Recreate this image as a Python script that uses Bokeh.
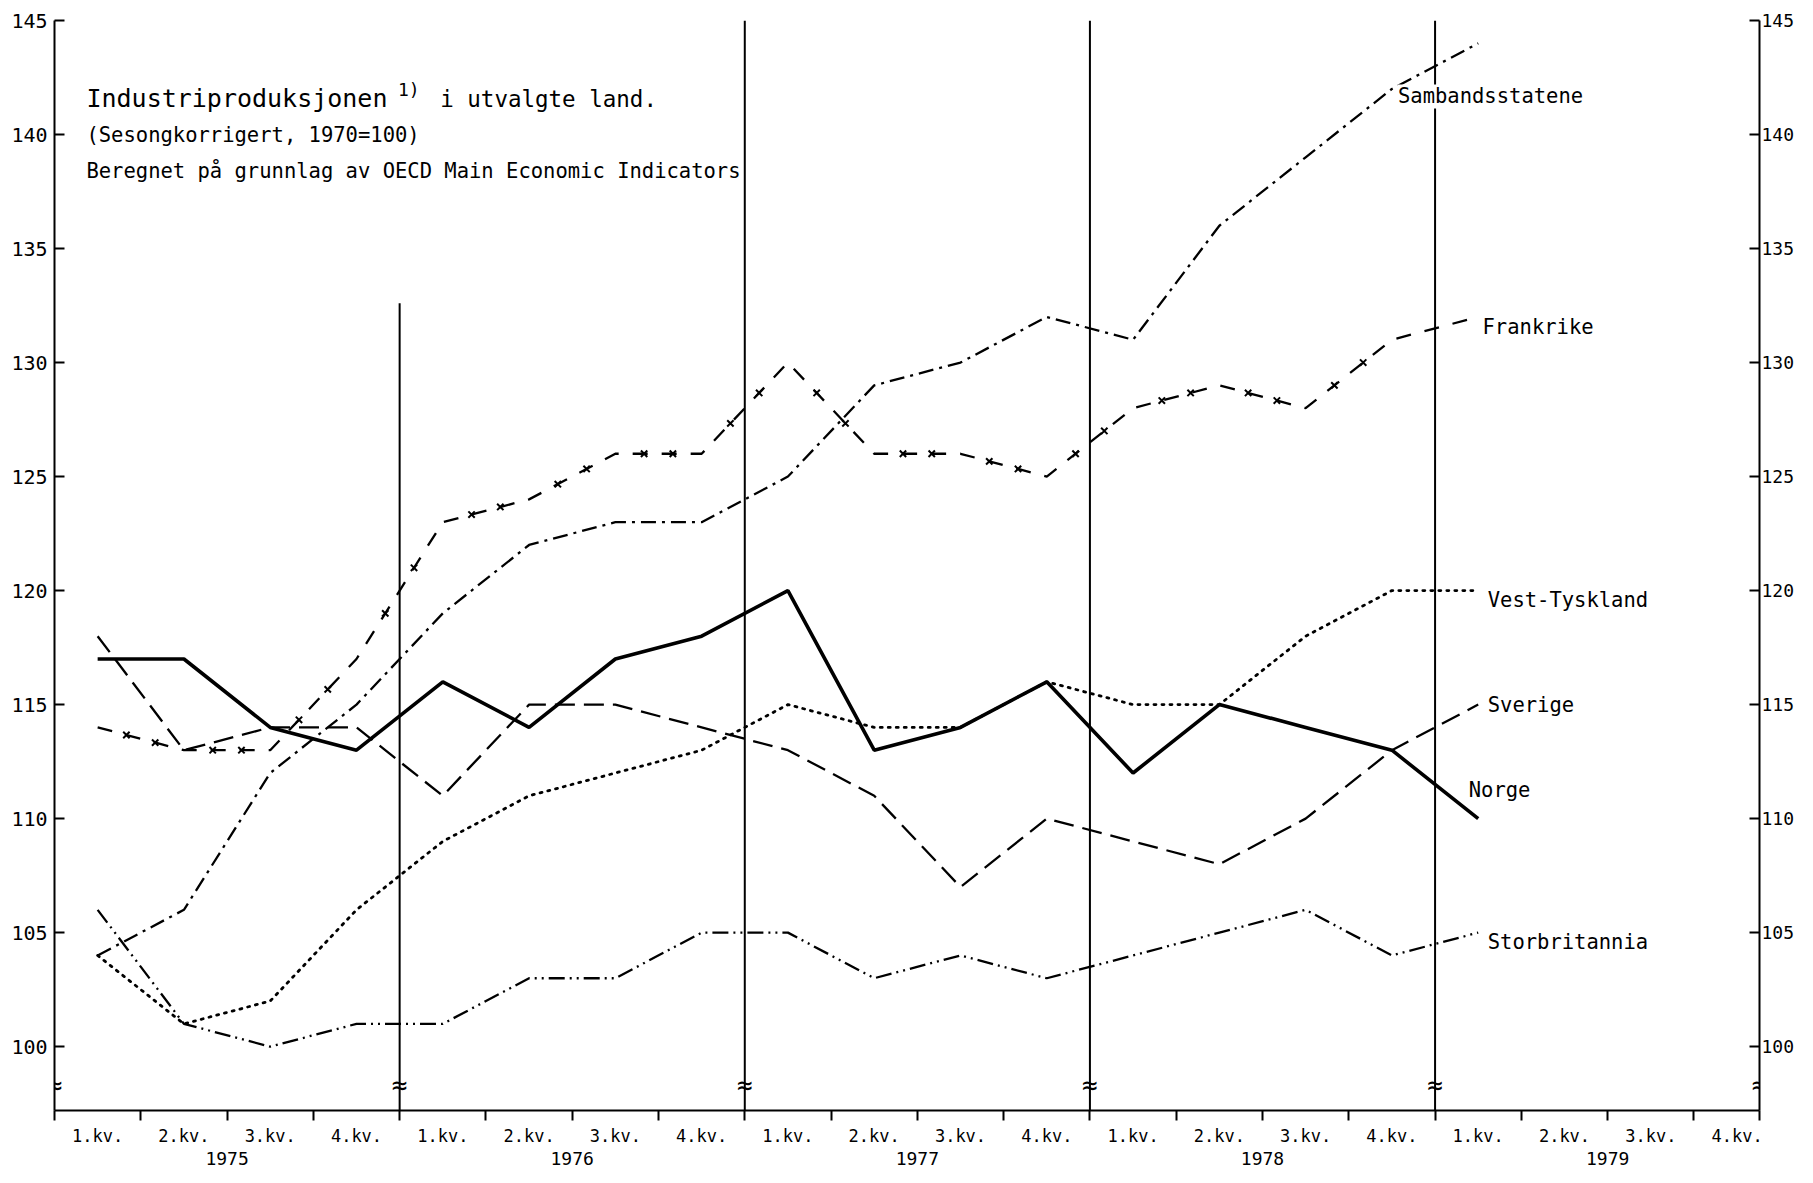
from bokeh.plotting import figure
from bokeh.models import LinearAxis, FixedTicker, Label, Range1d
from bokeh.embed import file_html
from bokeh.resources import INLINE

# ---------------- data ----------------
quarter_names = ["1.kv.", "2.kv.", "3.kv.", "4.kv."]
years = ["1975", "1976", "1977", "1978", "1979"]

norge = [117, 117, 114, 113, 116, 114, 117, 118, 120, 113, 114, 116, 112, 115, 114, 113, 110]
sverige = [118, 113, 114, 114, 111, 115, 115, 114, 113, 111, 107, 110, 109, 108, 110, 113, 115]
vest_tyskland = [104, 101, 102, 106, 109, 111, 112, 113, 115, 114, 114, 116, 115, 115, 118, 120, 120]
sambandsstatene = [104, 106, 112, 115, 119, 122, 123, 123, 125, 129, 130, 132, 131, 136, 139, 142, 144]
frankrike = [114, 113, 113, 117, 123, 124, 126, 126, 130, 126, 126, 125, 128, 129, 128, 131, 132]
storbritannia = [106, 101, 100, 101, 101, 103, 103, 105, 105, 103, 104, 103, 104, 105, 106, 104, 105]

y_ticks = [100, 105, 110, 115, 120, 125, 130, 135, 140, 145]

# ---------------- layout constants ----------------
FONT = "DejaVu Sans Mono"
X_END = 19.76
Y_MIN, Y_MAX = 97.2, 145
n_q = len(years) * 4
xs = [i + 0.5 for i in range(len(norge))]

p = figure(width=1797, height=1167,
           x_range=Range1d(0, X_END), y_range=Range1d(Y_MIN, Y_MAX),
           output_backend="svg", toolbar_location=None,
           x_axis_location=None, y_axis_location=None,
           min_border_left=54, min_border_right=32,
           min_border_top=20, min_border_bottom=48)
p.outline_line_color = None
p.grid.visible = False
p.background_fill_color = "white"

# ---------------- axes ----------------
def y_axis(standoff, size):
    ax = LinearAxis(ticker=FixedTicker(ticks=y_ticks))
    ax.major_tick_in = 10
    ax.major_tick_out = 0
    ax.major_tick_line_width = 2
    ax.minor_tick_line_color = None
    ax.axis_line_width = 2
    ax.major_label_standoff = standoff
    ax.major_label_text_font = FONT
    ax.major_label_text_font_size = size
    ax.major_label_text_color = "black"
    return ax

p.add_layout(y_axis(7, "20px"), "left")
p.add_layout(y_axis(2, "18px"), "right")

centers = [i + 0.5 for i in range(n_q)]
bounds = [float(i) for i in range(n_q)] + [X_END]
qa = LinearAxis(ticker=FixedTicker(ticks=centers, minor_ticks=bounds))
qa.major_label_overrides = {c: quarter_names[i % 4] for i, c in enumerate(centers)}
qa.major_tick_line_color = None
qa.major_tick_in = 0
qa.major_tick_out = 0
qa.minor_tick_in = 0
qa.minor_tick_out = 10
qa.minor_tick_line_width = 2
qa.axis_line_width = 2
qa.major_label_standoff = 5
qa.major_label_text_font = FONT
qa.major_label_text_font_size = "17px"
qa.major_label_text_color = "black"
p.add_layout(qa, "below")

year_centers = [4 * i + 2.0 for i in range(len(years))]
ya = LinearAxis(ticker=FixedTicker(ticks=year_centers))
ya.major_label_overrides = {c: years[i] for i, c in enumerate(year_centers)}
ya.axis_line_color = None
ya.major_tick_line_color = None
ya.minor_tick_line_color = None
ya.major_tick_in = 0
ya.major_tick_out = 0
ya.major_label_standoff = 3
ya.major_label_text_font = FONT
ya.major_label_text_font_size = "18px"
ya.major_label_text_color = "black"
p.add_layout(ya, "below")

# ---------------- year dividers ----------------
div_x = [4, 8, 12, 16]
div_top = [132.6, Y_MAX, Y_MAX, Y_MAX]
p.segment(x0=div_x, y0=[Y_MIN] * 4, x1=div_x, y1=div_top, line_color="black", line_width=2)

# axis break marks
for bx in [0] + div_x + [X_END]:
    p.add_layout(Label(x=bx, y=98.3, text="≈", text_align="center", text_baseline="middle",
                       text_font=FONT, text_font_size="26px", text_color="black"))

# ---------------- series ----------------
p.line(xs, storbritannia, line_color="black", line_width=2.3, line_dash="16 5 2 5 2 5")
p.line(xs, sverige, line_color="black", line_width=2.3, line_dash="20 9")
p.line(xs, vest_tyskland, line_color="black", line_width=2.8, line_dash="2 6", line_cap="round")
p.line(xs, sambandsstatene, line_color="black", line_width=2.3, line_dash="15 6 3 6")
p.line(xs, frankrike, line_color="black", line_width=2.3, line_dash="15 14")
fx, fy = [], []
for i in range(len(frankrike) - 2):
    for f in (1 / 3, 2 / 3):
        fx.append(xs[i] + f * (xs[i + 1] - xs[i]))
        fy.append(frankrike[i] + f * (frankrike[i + 1] - frankrike[i]))
p.scatter(fx, fy, marker="x", size=9, line_color="black", line_width=2)
p.line(xs, norge, line_color="black", line_width=3.6)

# ---------------- series labels ----------------
def lab(x, y, t, size="20.5px", bg=None, baseline="middle"):
    p.add_layout(Label(x=x, y=y, text=t, text_align="left", text_baseline=baseline,
                       text_font=FONT, text_font_size=size, text_color="black",
                       background_fill_color=bg))

lab(15.57, 141.67, "Sambandsstatene", bg="white")
lab(16.55, 131.57, "Frankrike")
lab(16.61, 119.6, "Vest-Tyskland")
lab(16.61, 115.0, "Sverige")
lab(16.39, 111.26, "Norge")
lab(16.61, 104.6, "Storbritannia")

# ---------------- title block ----------------
lab(0.37, 141.57, "Industriproduksjonen", size="25px")
lab(3.98, 141.98, "1)", size="18px")
lab(4.47, 141.57, "i utvalgte land.", size="22.5px")
lab(0.37, 140.0, "(Sesongkorrigert, 1970=100)")
lab(0.37, 138.38, "Beregnet på grunnlag av OECD Main Economic Indicators")

open("out.html", "w").write(file_html(p, INLINE))
